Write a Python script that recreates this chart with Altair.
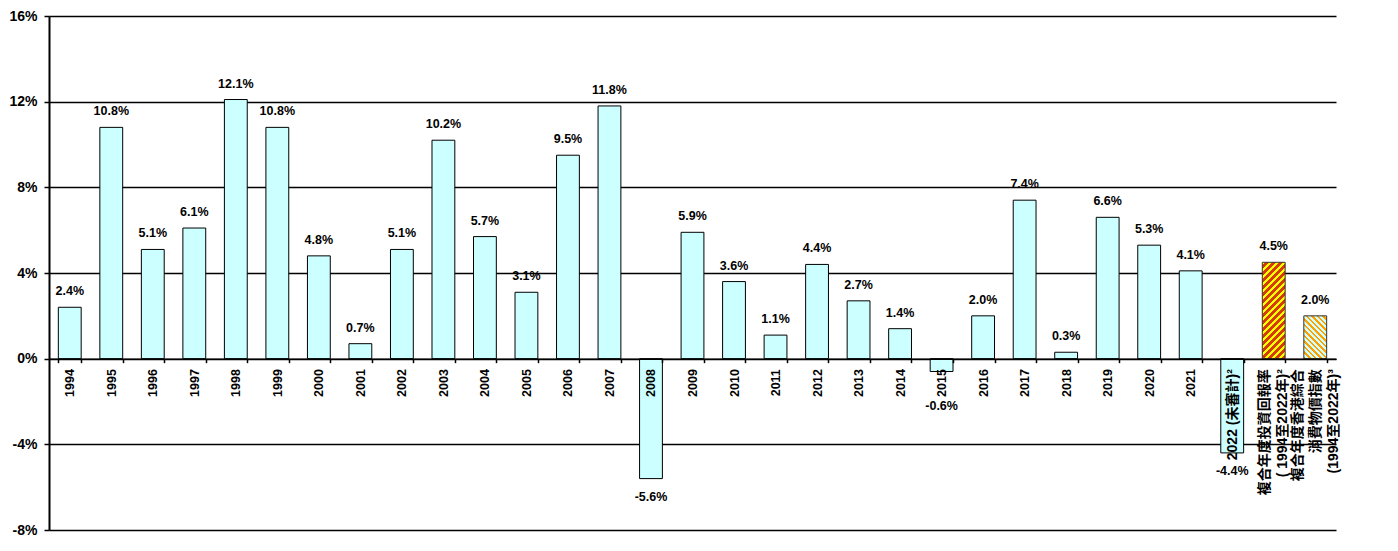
import altair as alt
import pandas as pd

categories = [str(y) for y in range(1994, 2022)] + [
    "2022 (未審計)²",
    "複合年度投資回報率|( 1994至2022年)²",
    "複合年度香港綜合|消費物價指數|(1994至2022年)³",
]
values = [2.4, 10.8, 5.1, 6.1, 12.1, 10.8, 4.8, 0.7, 5.1, 10.2, 5.7, 3.1, 9.5, 11.8,
          -5.6, 5.9, 3.6, 1.1, 4.4, 2.7, 1.4, -0.6, 2.0, 7.4, 0.3, 6.6, 5.3, 4.1,
          -4.4, 4.5, 2.0]
kinds = ["year"] * 29 + ["return", "cpi"]
y_ticks = [-8, -4, 0, 4, 8, 12, 16]

df = pd.DataFrame({"cat": categories, "v": values, "kind": kinds})

W, H = 1287, 514
N = len(categories)
PAD = 0.45
step = W / N
bw = step * (1 - PAD)
ppu = H / (y_ticks[-1] - y_ticks[0])

FONT = "Liberation Sans, Arial, Noto Sans CJK TC"
LINE_H = 18


def stripes(w, h, period, frac, c1, c2, direction):
    r = h / w
    a = (1 + r) / (1 + r * r)
    b = a * r
    if direction == "/":
        x1, y1, x2, y2 = 0, 0, a, b
    else:
        x1, y1, x2, y2 = 0, 1, a, 1 - b
    L = w + h
    p = period / L
    stops = []
    k = 0
    while k * p < 1:
        s = k * p
        m = min(s + frac * p, 1)
        e = min(s + p, 1)
        stops += [{"offset": s, "color": c1}, {"offset": m, "color": c1},
                  {"offset": m, "color": c2}, {"offset": e, "color": c2}]
        k += 1
    return {"gradient": "linear", "x1": x1, "y1": y1, "x2": x2, "y2": y2, "stops": stops}


red_fill = stripes(bw, 4.5 * ppu, 7.0, 0.4, "#ffff00", "#d63c00", "/")
cpi_fill = stripes(bw, 2.0 * ppu, 5.5, 0.5, "#ffa000", "#ccffff", "\\")

x_enc = alt.X(
    "cat:N",
    sort=categories,
    scale=alt.Scale(paddingInner=PAD),
    axis=alt.Axis(
        title=None,
        orient="bottom",
        offset=-(H * 8 / 24),
        labelAngle=-90,
        labelAlign="right",
        labelBaseline="middle",
        labelExpr="isValid(datum.value) ? split(datum.value, '|') : ''",
        labelFont=FONT,
        labelFontSize={"condition": {"test": "isValid(datum.value) && length(datum.value) > 4",
                                     "value": 14}, "value": 12.5},
        labelOffset={"condition": [
            {"test": "isValid(datum.value) && length(split(datum.value, '|')) == 3",
             "value": -LINE_H},
            {"test": "isValid(datum.value) && length(split(datum.value, '|')) == 2",
             "value": -LINE_H / 2},
        ], "value": 0},
        labelFontWeight="bold",
        labelColor="#000000",
        labelPadding=6,
        labelLineHeight=LINE_H,
        labelOverlap=False,
        labelBound=False,
        tickBand="extent",
        tickSize=4,
        tickColor="#000000",
        tickWidth=1.5,
        domainColor="#000000",
        domainWidth=1.5,
        zindex=2,
    ),
)

y_scale = alt.Scale(domain=[y_ticks[0], y_ticks[-1]], nice=False, zero=False)
y_enc = alt.Y(
    "v:Q",
    scale=y_scale,
    axis=alt.Axis(
        title=None,
        values=y_ticks,
        labelExpr="datum.value + '%'",
        labelFont=FONT,
        labelFontSize=14,
        labelFontWeight="bold",
        labelColor="#000000",
        labelPadding=7,
        tickSize=5,
        tickColor="#000000",
        tickWidth=1.5,
        domainColor="#000000",
        domainWidth=2,
        grid=True,
        gridColor="#000000",
        gridWidth=1.5,
        gridOpacity=1,
        zindex=0,
    ),
)

base = alt.Chart(df)

bars = base.transform_filter("datum.kind == 'year'").mark_bar(
    stroke="#000000", strokeWidth=1, fill="#ccffff"
).encode(x=x_enc, y=y_enc, y2=alt.datum(0))

red_bar = base.transform_filter("datum.kind == 'return'").mark_bar(
    stroke="#333333", strokeWidth=1
).encode(x=x_enc, y=y_enc, y2=alt.datum(0), fill=alt.value(red_fill))

cpi_bar = base.transform_filter("datum.kind == 'cpi'").mark_bar(
    stroke="#333333", strokeWidth=1
).encode(x=x_enc, y=y_enc, y2=alt.datum(0), fill=alt.value(cpi_fill))

lab = base.transform_calculate(
    label="replace(format(datum.v, '.1f'), '\u2212', '-') + '%'",
    ly="datum.v < 0 ? min(datum.v, -1.35) : datum.v",
)

pos_text = lab.transform_filter("datum.v >= 0").mark_text(
    font=FONT, fontSize=12.5, fontWeight="bold", color="#000000",
    baseline="middle", dy=-16,
).encode(x=alt.X("cat:N", sort=categories), y=alt.Y("ly:Q", scale=y_scale), text="label:N")

neg_text = lab.transform_filter("datum.v < 0").mark_text(
    font=FONT, fontSize=12.5, fontWeight="bold", color="#000000",
    baseline="middle", dy=18,
).encode(x=alt.X("cat:N", sort=categories), y=alt.Y("ly:Q", scale=y_scale), text="label:N")

chart = alt.layer(bars, red_bar, cpi_bar, pos_text, neg_text).properties(
    width=W,
    height=H,
    autosize=alt.AutoSizeParams(type="none"),
    padding={"left": 41, "top": 8, "right": 30, "bottom": 10},
).configure_view(strokeWidth=0)

chart.save("out.html", embed_options={"renderer": "svg", "actions": False})
